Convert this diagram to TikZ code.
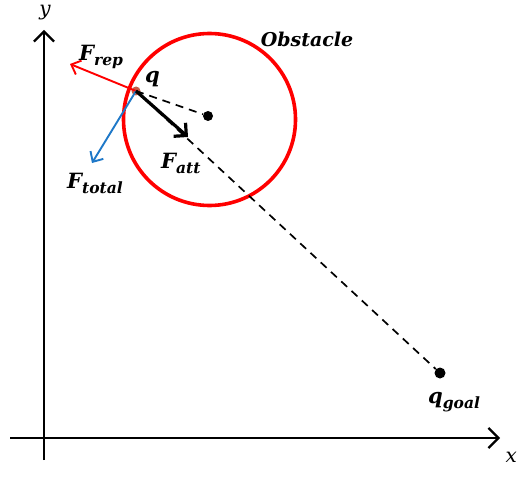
\documentclass[tikz,border=0pt]{standalone}
\usepackage{fontspec}
\newfontfamily\lblfont{DejaVu Serif}
\usetikzlibrary{arrows.meta}
\newcommand{\sublbl}[1]{\raisebox{-5pt}{\fontsize{15.5}{17}\selectfont #1}}
\begin{document}
\begin{tikzpicture}[x={(1pt,0)},y={(0,-1pt)},
  axis/.style={line width=2.2pt,-{Straight Barb[length=10pt,width=20pt,line width=2.2pt]}},
  force/.style={line width=1.9pt,-{Straight Barb[length=8pt,width=15pt,line width=1.9pt]}},
  lbl/.style={inner sep=0pt,font=\lblfont\fontsize{21}{24}\selectfont\bfseries\itshape},
  axlbl/.style={inner sep=0pt,font=\lblfont\fontsize{20}{24}\selectfont\itshape},
  dashline/.style={line width=1.7pt,dash pattern=on 8pt off 6pt}]
\useasboundingbox (0,0) rectangle (518,481);
\fill[white] (0,0) rectangle (518,481);
% axes
\coordinate (yb) at (44,460);
\coordinate (yt) at (44,30);
\coordinate (xl) at (10,438);
\coordinate (xr) at (500,438);
\draw[axis] (yb) -- (yt);
\draw[axis] (xl) -- (xr);
\node[axlbl] (ylab) at (45,13) {y};
\node[axlbl,anchor=east] (xlab) at (517,457) {x};
% obstacle
\node[draw=red,line width=3.6pt,circle,minimum size=172pt,inner sep=0pt] (obs) at (209.5,119.5) {};
\node[lbl,font=\lblfont\fontsize{19}{22}\selectfont\bfseries\itshape] (obslab) at (307,39) {Obstacle};
\node[circle,fill=black,minimum size=10pt,inner sep=0pt] (c) at (208,116) {};
% points
\node[circle,fill={rgb,255:red,200;green,90;blue,70},minimum size=9pt,inner sep=0pt] (q) at (136,91) {};
\node[circle,fill=black,minimum size=11pt,inner sep=0pt] (goal) at (440,373) {};
\draw[dashline] (q.center) -- (c);
\draw[dashline] (q.center) -- (goal);
% forces
\coordinate (rep) at (70,64);
\coordinate (tot) at (92,163);
\coordinate (att) at (188,137);
\draw[force,red] (q.center) -- (rep);
\draw[force,color={rgb,255:red,30;green,120;blue,200}] (q.center) -- (tot);
\draw[line width=3.2pt,-{Straight Barb[length=9pt,width=18pt,line width=3.2pt]}] (q.center) -- (att);
% labels
\node[lbl,anchor=base west] (frep) at (79,61) {F\sublbl{rep}};
\node[lbl,anchor=base west] (qlab) at (145,83) {q};
\node[lbl,anchor=base west] (fatt) at (161,168) {F\sublbl{att}};
\node[lbl,anchor=base west] (ftot) at (67,188) {F\sublbl{total}};
\node[lbl,anchor=base west] (glab) at (428,403) {q\sublbl{goal}};
\end{tikzpicture}
\end{document}
